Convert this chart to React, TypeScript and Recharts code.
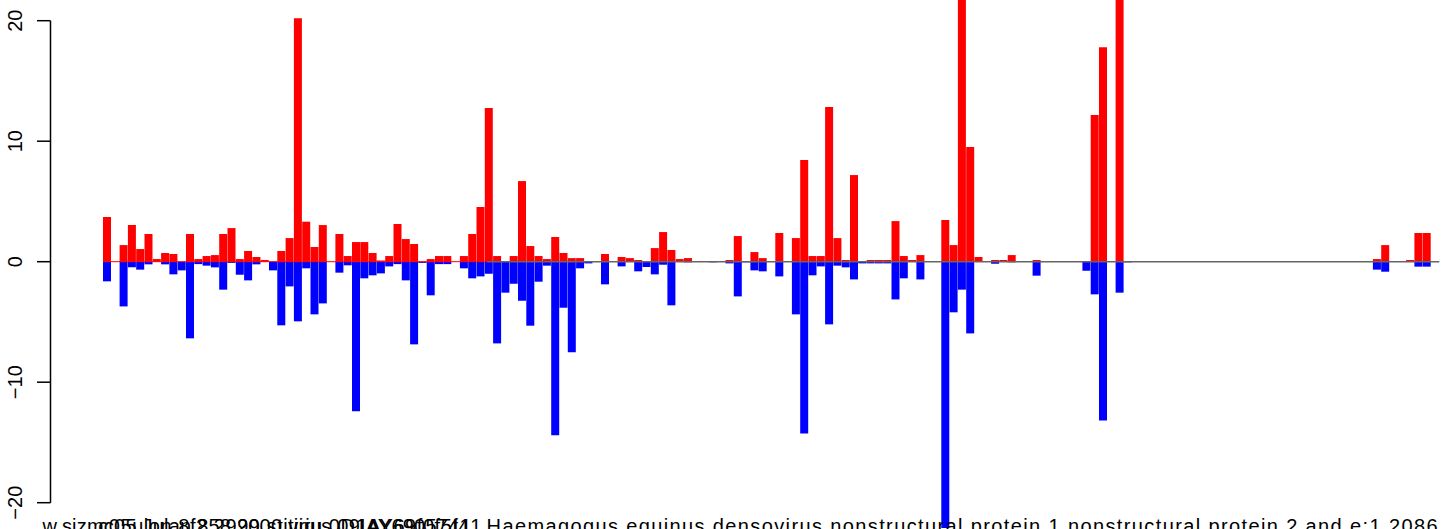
import { BarChart, Bar, XAxis, YAxis, ReferenceLine } from "recharts";

// positive part of each bar (red), one value per position
const RED = [
    3.71, 0, 1.38, 3.04, 1.05, 2.3, 0.22, 0.72, 0.64, 0,
    2.3, 0.22, 0.47, 0.55, 2.3, 2.79, 0.22, 0.89, 0.39, 0.14,
    0, 0.89, 1.96, 20.2, 3.32, 1.22, 3.04, 0, 2.3, 0.47,
    1.63, 1.63, 0.72, 0.1, 0.47, 3.13, 1.88, 1.47, 0, 0.22,
    0.47, 0.47, 0, 0.47, 2.3, 4.54, 12.75, 0.47, 0, 0.47,
    6.69, 1.3, 0.47, 0.22, 2.05, 0.72, 0.3, 0.3, 0, 0,
    0.64, 0, 0.39, 0.3, 0.14, 0, 1.13, 2.46, 0.97, 0.22,
    0.3, 0, 0, 0, 0, 0.14, 2.13, 0, 0.8, 0.3,
    0, 2.38, 0, 1.96, 8.44, 0.47, 0.47, 12.84, 1.96, 0.14,
    7.19, 0, 0.14, 0.14, 0.14, 3.37, 0.47, 0.14, 0.55, 0,
    0, 3.46, 1.38, 26.0, 9.52, 0.39, 0, 0.14, 0.14, 0.55,
    0, 0, 0.14, 0, 0.05, 0, 0, 0, 0, 12.17,
    17.8, 0, 30.0, 0, 0, 0, 0, 0, 0, 0,
    0, 0, 0, 0, 0, 0, 0, 0, 0, 0,
    0, 0, 0, 0, 0, 0, 0, 0, 0, 0,
    0, 0, 0, 0.22, 1.38, 0, 0, 0.14, 2.38, 2.38,
];

// negative part of each bar (blue)
const BLUE = [
    -1.63, 0, -3.71, -0.47, -0.66, -0.22, 0, -0.22, -1.05, -0.72,
    -6.36, -0.2, -0.33, -0.47, -2.32, -0.1, -1.08, -1.55, -0.22, 0,
    -0.72, -5.28, -2.05, -4.95, -0.55, -4.37, -3.46, 0, -0.91, -0.3,
    -12.42, -1.38, -1.13, -0.97, -0.39, -0.2, -1.55, -6.86, -0.1, -2.79,
    -0.2, -0.2, 0, -0.55, -1.38, -1.22, -1.0, -6.78, -2.57, -1.83,
    -3.24, -5.31, -1.66, -0.33, -14.41, -3.82, -7.52, -0.55, -0.14, 0,
    -1.88, 0, -0.39, 0, -0.8, -0.44, -1.05, -0.25, -3.62, 0,
    -0.05, 0, 0, -0.05, 0, -0.14, -2.88, -0.05, -0.72, -0.8,
    0, -1.22, 0, -4.37, -14.25, -1.13, -0.39, -5.2, -0.33, -0.47,
    -1.47, -0.14, -0.14, -0.14, -0.14, -3.13, -1.38, 0, -1.47, 0,
    0, -25.0, -4.2, -2.32, -5.95, 0, 0, -0.17, 0, -0.05,
    0, 0, -1.16, 0, 0, 0, 0, 0, -0.75, -2.71,
    -13.17, 0, -2.57, -0.05, 0, 0, 0, 0, 0, 0,
    0, 0, 0, 0, 0, 0, 0, 0, 0, 0,
    0, 0, 0, 0, 0, 0, 0, 0, 0, 0,
    0, 0, 0, -0.66, -0.83, 0, 0, 0, -0.41, -0.41,
];

const Y_TICKS = [-20, -10, 0, 10, 20];

// bar positions that carry a name, and the names (they overlap, as in the original)
const LABEL_AT = [18, 22, 103];
const LABEL_TEXT = [
    "w.sizmc05 Julan 858 2000 tirius 09IAY6905741",
    "c05ulon 8f2 2999 stiviru 0D1AY69f0f5f41",
    "Haemagogus equinus densovirus nonstructural protein 1 nonstructural protein 2 and e:1 2086",
];

// zero line: red over the first bars, grey for the rest
const RED_LINE_END = 46;

// ── layout ──
const W = 1441;
const H = 529;
const X_AXIS_H = 1;
const PLOT_H = H - X_AXIS_H;
const ZERO_Y = 261.7;
const PX_PER_UNIT = 12.05;
const Y_MAX = ZERO_Y / PX_PER_UNIT;
const Y_MIN = -(PLOT_H - ZERO_Y) / PX_PER_UNIT;
const LABEL_WIDTHS = [428, 383, 951];
const FONT = "'Liberation Sans', Arial, Helvetica, sans-serif";

const rows = RED.map((r, i) => ({ idx: i, red: r, blue: BLUE[i] }));

function fmtTick(v: number): string {
    return v < 0 ? `\u2212${Math.abs(v)}` : `${v}`;
}

// R-style y axis: line only spans the tick range, rotated labels
function YTick(props: any) {
    const { y, payload } = props;
    const v = payload.value;
    const top = v === Math.max(...Y_TICKS);
    const span = (Math.max(...Y_TICKS) - Math.min(...Y_TICKS)) * PX_PER_UNIT;
    return (
        <g>
            {top && <line x1={50.5} x2={50.5} y1={y} y2={y + span} stroke="#000" strokeWidth={1.5} />}
            <line x1={37} x2={50.5} y1={y} y2={y} stroke="#000" strokeWidth={1.5} />
            <text
                transform={`translate(22, ${y}) rotate(-90)`}
                textAnchor="middle"
                fontSize={20}
                fontFamily={FONT}
                fill="#000"
            >
                {fmtTick(v)}
            </text>
        </g>
    );
}

function NameTick(props: any) {
    const { x, payload } = props;
    const k = LABEL_AT.indexOf(payload.value);
    if (k < 0) return null;
    return (
        <text
            x={x}
            y={533}
            textAnchor="middle"
            fontSize={20}
            fontFamily={FONT}
            fill="#000"
            textLength={LABEL_WIDTHS[k]}
            lengthAdjust="spacing"
        >
            {LABEL_TEXT[k]}
        </text>
    );
}

export default function App() {
    return (
        <div style={{ position: "absolute", left: 0, top: 0, width: W, height: H, background: "#fff", overflow: "hidden" }}>
            <BarChart
                width={W}
                height={H}
                data={rows}
                margin={{ top: 0, right: 10, bottom: 0, left: 0 }}
                barCategoryGap={0}
                barGap={0}
                stackOffset="sign"
            >
                <XAxis
                    dataKey="idx"
                    type="category"
                    height={X_AXIS_H}
                    axisLine={false}
                    tickLine={false}
                    interval={0}
                    tick={(p: any) => <NameTick {...p} />}
                />
                {/* numeric twin of the bar axis, only for the zero-line segments */}
                <XAxis xAxisId="pos" type="number" domain={[0, RED.length]} allowDataOverflow hide />
                <YAxis
                    width={103}
                    domain={[Y_MIN, Y_MAX]}
                    allowDataOverflow
                    ticks={Y_TICKS}
                    interval={0}
                    axisLine={false}
                    tickLine={false}
                    tick={(p: any) => <YTick {...p} />}
                />
                <Bar dataKey="red" stackId="s" fill="#ff0000" isAnimationActive={false} />
                <Bar dataKey="blue" stackId="s" fill="#0000ff" isAnimationActive={false} />
                <ReferenceLine
                    xAxisId="pos"
                    segment={[{ x: RED_LINE_END, y: 0 }, { x: RED.length, y: 0 }]}
                    ifOverflow="visible"
                    stroke="#666666"
                    strokeWidth={1.5}
                />
                <ReferenceLine
                    xAxisId="pos"
                    segment={[{ x: 0, y: 0 }, { x: RED_LINE_END, y: 0 }]}
                    ifOverflow="visible"
                    stroke="#ff0000"
                    strokeWidth={1}
                />
            </BarChart>
        </div>
    );
}
